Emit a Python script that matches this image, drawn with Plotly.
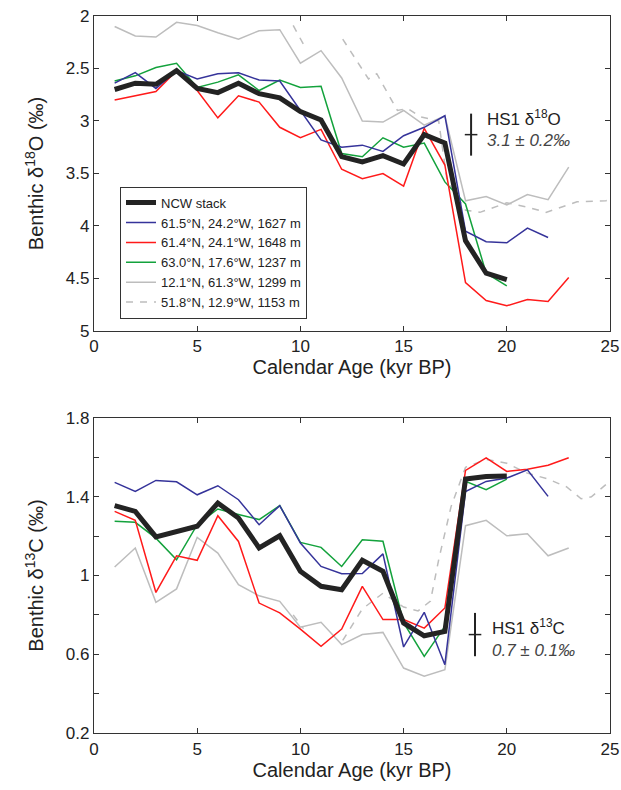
import plotly.graph_objects as go

# ---------------- data ----------------
age20 = list(range(1, 21))
age22 = list(range(1, 23))
age23 = list(range(1, 24))

ncw_d18o = [2.70, 2.64, 2.65, 2.52, 2.69, 2.73, 2.64, 2.74, 2.78, 2.91, 2.99, 3.34, 3.39, 3.33, 3.41, 3.13, 3.21, 4.14, 4.45, 4.51]
blue_d18o = [2.64, 2.54, 2.69, 2.52, 2.60, 2.55, 2.54, 2.61, 2.62, 2.90, 3.18, 3.25, 3.23, 3.29, 3.14, 3.06, 2.95, 4.05, 4.15, 4.16, 4.02, 4.11]
red_d18o = [2.80, 2.76, 2.72, 2.52, 2.71, 2.97, 2.76, 2.82, 3.06, 3.16, 3.08, 3.46, 3.55, 3.50, 3.62, 3.07, 3.42, 4.54, 4.71, 4.76, 4.70, 4.72, 4.49]
green_d18o = [2.62, 2.57, 2.49, 2.45, 2.68, 2.63, 2.56, 2.71, 2.61, 2.68, 2.67, 3.31, 3.34, 3.16, 3.25, 3.21, 3.58, 3.79, 4.45, 4.57]
gray_d18o = [2.10, 2.19, 2.20, 2.06, 2.09, 2.16, 2.22, 2.14, 2.13, 2.45, 2.33, 2.59, 3.00, 3.01, 2.90, 3.04, 2.95, 3.76, 3.72, 3.80, 3.70, 3.75, 3.44]
dash_age_top = [9.65, 10.15, None, 12.05, 13.3, 13.7, 14.7, 15.2, 15.8, 16.7, 17.1, 18.0, 18.7, 20.0, 21.0, 21.9, 23.4, 24.8, 25.0]
dash_d18o = [2.09, 2.27, None, 2.22, 2.60, 2.55, 2.90, 2.88, 2.96, 3.00, 3.56, 3.85, 3.87, 3.78, 3.82, 3.87, 3.77, 3.76, 3.75]

ncw_d13c = [1.355, 1.326, 1.196, 1.224, 1.25, 1.368, 1.292, 1.14, 1.202, 1.021, 0.945, 0.928, 1.077, 1.021, 0.759, 0.694, 0.716, 1.49, 1.503, 1.505]
blue_d13c = [1.473, 1.427, 1.483, 1.476, 1.41, 1.456, 1.385, 1.258, 1.355, 1.165, 1.046, 1.009, 1.01, 1.11, 0.637, 0.813, 0.547, 1.427, 1.478, 1.495, 1.537, 1.402]
red_d13c = [1.326, 1.28, 0.914, 1.10, 1.077, 1.304, 1.173, 0.86, 0.81, 0.728, 0.64, 0.728, 0.945, 0.776, 0.776, 0.733, 0.835, 1.534, 1.598, 1.529, 1.54, 1.56, 1.598]
green_d13c = [1.275, 1.27, 1.19, 1.08, 1.258, 1.338, 1.31, 1.284, 1.355, 1.168, 1.143, 1.046, 1.182, 1.174, 0.76, 0.589, 0.742, 1.478, 1.436, 1.49]
gray_d13c = [1.043, 1.14, 0.864, 0.932, 1.194, 1.114, 0.953, 0.897, 0.869, 0.737, 0.762, 0.649, 0.70, 0.711, 0.53, 0.488, 0.522, 1.253, 1.28, 1.202, 1.212, 1.10, 1.14]
dash_age_bot = [9.65, 10.15, None, 12.05, 13.0, 14.0, 15.0, 15.7, 16.3, 16.7, 17.3, 18.0, 19.0, 20.0, 21.0, 22.0, 22.9, 23.6, 24.1, 25.0]
dash_d13c = [0.80, 0.73, None, 0.67, 0.83, 0.91, 0.84, 0.82, 0.87, 1.08, 1.35, 1.55, 1.59, 1.57, 1.52, 1.49, 1.45, 1.39, 1.40, 1.48]

legend_names = ["NCW stack", "61.5°N, 24.2°W, 1627 m", "61.4°N, 24.1°W, 1648 m",
                "63.0°N, 17.6°W, 1237 m", "12.1°N, 61.3°W, 1299 m", "51.8°N, 12.9°W, 1153 m"]

hs1_d18o = [3.13, 0.2]
hs1_d13c = [0.70, 0.11]
x_ticks = [0, 5, 10, 15, 20, 25]
y1_ticks = [2, 2.5, 3, 3.5, 4, 4.5, 5]
y2_ticks = [0.2, 0.4, 0.6, 0.8, 1.0, 1.2, 1.4, 1.6, 1.8]
y2_text = ["0.2", "", "0.6", "", "1", "", "1.4", "", "1.8"]

# ---------------- styles ----------------
BLUE = "#35339a"
RED = "#ff1a1a"
GREEN = "#13a23c"
GRAY = "#bdbdbd"
BLACK = "#232323"
FONT = "Liberation Sans, Arial, sans-serif"

fig = go.Figure()

series = [
    (age22, blue_d18o, age22, blue_d13c, legend_names[1], dict(color=BLUE, width=1.5), 2),
    (age23, red_d18o, age23, red_d13c, legend_names[2], dict(color=RED, width=1.5), 3),
    (age20, green_d18o, age20, green_d13c, legend_names[3], dict(color=GREEN, width=1.5), 4),
    (age23, gray_d18o, age23, gray_d13c, legend_names[4], dict(color=GRAY, width=1.5), 5),
    (dash_age_top, dash_d18o, dash_age_bot, dash_d13c, legend_names[5],
     dict(color=GRAY, width=1.5, dash="7px,7px"), 6),
]
for xs1, ys1, xs2, ys2, name, line, rank in reversed(series):
    fig.add_trace(go.Scatter(x=xs1, y=ys1, mode="lines", line=line, name=name,
                             legendrank=rank, xaxis="x", yaxis="y", connectgaps=False))
for xs1, ys1, xs2, ys2, name, line, rank in reversed(series):
    fig.add_trace(go.Scatter(x=xs2, y=ys2, mode="lines", line=line, name=name,
                             showlegend=False, xaxis="x2", yaxis="y2", connectgaps=False))

fig.add_trace(go.Scatter(x=age20, y=ncw_d18o, mode="lines", line=dict(color=BLACK, width=5),
                         name=legend_names[0], legendrank=1, xaxis="x", yaxis="y"))
fig.add_trace(go.Scatter(x=age20, y=ncw_d13c, mode="lines", line=dict(color=BLACK, width=5),
                         name=legend_names[0], showlegend=False, xaxis="x2", yaxis="y2"))

# HS1 error bars
fig.add_trace(go.Scatter(x=[18.27], y=[hs1_d18o[0]], mode="markers",
                         marker=dict(symbol="line-ew", size=9, line=dict(color=BLACK, width=1.5)),
                         error_y=dict(type="constant", value=hs1_d18o[1], width=0, thickness=2, color=BLACK),
                         showlegend=False, xaxis="x", yaxis="y"))
fig.add_trace(go.Scatter(x=[18.46], y=[hs1_d13c[0]], mode="markers",
                         marker=dict(symbol="line-ew", size=9, line=dict(color=BLACK, width=1.5)),
                         error_y=dict(type="constant", value=hs1_d13c[1], width=0, thickness=2, color=BLACK),
                         showlegend=False, xaxis="x2", yaxis="y2"))

axis_common = dict(range=[0, 25], tickvals=x_ticks, ticks="inside", ticklen=5, tickwidth=1,
                   tickcolor="#333", showline=True, linecolor="#333", linewidth=1.2, mirror="ticks",
                   showgrid=False, zeroline=False, automargin=False,
                   tickfont=dict(size=17, color="#222", family=FONT),
                   title=dict(text="Calendar Age (kyr BP)", font=dict(size=20, color="#222", family=FONT), standoff=4))
yaxis_common = dict(ticks="inside", ticklen=5, tickwidth=1, tickcolor="#333", showline=True,
                    linecolor="#333", linewidth=1.2, mirror="ticks", showgrid=False, zeroline=False,
                    automargin=False, tickfont=dict(size=17, color="#222", family=FONT))

fig.update_layout(
    width=621, height=790,
    margin=dict(l=94, r=11, t=16, b=57, autoexpand=False),
    paper_bgcolor="white", plot_bgcolor="white",
    font=dict(family=FONT, color="#222"),
    xaxis=dict(axis_common, domain=[0, 1], anchor="y"),
    xaxis2=dict(axis_common, domain=[0, 1], anchor="y2"),
    yaxis=dict(yaxis_common, domain=[0.5607, 1], anchor="x", range=[5, 2], tickvals=y1_ticks,
               ticktext=["2", "2.5", "3", "3.5", "4", "4.5", "5"],
               title=dict(text="Benthic δ<sup>18</sup>O (‰)", font=dict(size=20, color="#222", family=FONT), standoff=16)),
    yaxis2=dict(yaxis_common, domain=[0, 0.4393], anchor="x2", range=[0.2, 1.8], tickvals=y2_ticks,
                ticktext=y2_text,
                title=dict(text="Benthic δ<sup>13</sup>C (‰)", font=dict(size=20, color="#222", family=FONT), standoff=16)),
    legend=dict(x=0.0504, y=0.762, xanchor="left", yanchor="top", bgcolor="white",
                bordercolor="#333", borderwidth=1, font=dict(size=13, color="#222", family=FONT),
                tracegroupgap=0, itemwidth=30),
    showlegend=True,
)

fig.add_annotation(x=18.94, y=2.97, xref="x", yref="y", xanchor="left", yanchor="middle",
                   text="HS1 δ<sup>18</sup>O", showarrow=False, font=dict(size=17, color="#222", family=FONT))
fig.add_annotation(x=18.94, y=3.19, xref="x", yref="y", xanchor="left", yanchor="middle",
                   text="<i>3.1 ± 0.2‰</i>", showarrow=False, font=dict(size=17, color="#444", family=FONT))
fig.add_annotation(x=19.19, y=0.74, xref="x2", yref="y2", xanchor="left", yanchor="middle",
                   text="HS1 δ<sup>13</sup>C", showarrow=False, font=dict(size=17, color="#222", family=FONT))
fig.add_annotation(x=19.19, y=0.62, xref="x2", yref="y2", xanchor="left", yanchor="middle",
                   text="<i>0.7 ± 0.1‰</i>", showarrow=False, font=dict(size=17, color="#444", family=FONT))

# remove the browser's default 8px body margin so the figure fills the window exactly
fig.write_html("out.html", config={"displayModeBar": False},
               post_script="document.body.style.margin='0';document.body.style.overflow='hidden';")
